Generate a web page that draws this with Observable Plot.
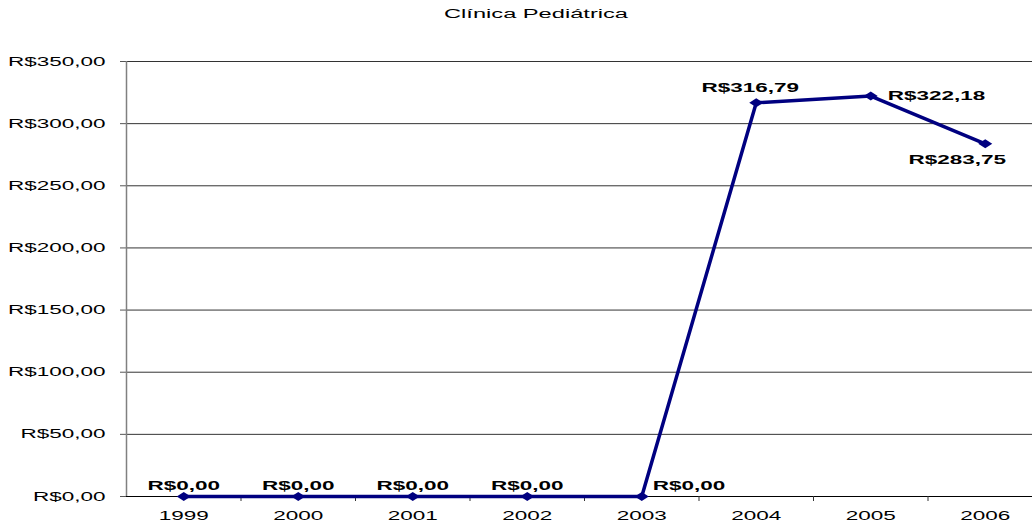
<!DOCTYPE html>
<html>
<head>
<meta charset="utf-8">
<script src="https://cdn.jsdelivr.net/npm/d3@7"></script>
<script src="https://cdn.jsdelivr.net/npm/@observablehq/plot@0.6"></script>
<style>
  body { margin: 0; background: #fff; font-family: "Liberation Sans", Arial, sans-serif; }
  #title { position: relative; width: 1032px; height: 30px; }
  #title span {
    position: absolute; left: 536px; top: 8px;
    font-size: 12px; line-height: 12px; white-space: nowrap; color: #000;
    transform: translateX(-50%) scaleX(1.97);
  }
</style>
</head>
<body>
<div id="title"><span>Clínica Pediátrica</span></div>
<div id="chart"></div>
<script>
// Yearly amounts (R$)
const years = [1999, 2000, 2001, 2002, 2003, 2004, 2005, 2006];
const values = [0, 0, 0, 0, 0, 316.79, 322.18, 283.75];
const yTicks = [0, 50, 100, 150, 200, 250, 300, 350];

const data = years.map((year, i) => ({year, value: values[i]}));
const brl = v => "R$" + v.toFixed(2).replace(".", ",");

// where each value label sits relative to its point: [dx, dy, anchor]
const labelPlacement = {
  1999: [0, -11, "middle"],
  2000: [0, -11, "middle"],
  2001: [0, -11, "middle"],
  2002: [0, -11, "middle"],
  2003: [11, -11, "start"],
  2004: [-6, -15, "middle"],
  2005: [17, 0, "start"],
  2006: [-28, 16, "middle"]
};

// wide diamond marker
const wideDiamond = {
  draw(ctx, size) {
    const r = Math.sqrt(size / Math.PI);
    ctx.moveTo(0, -r * 0.9);
    ctx.lineTo(r * 1.4, 0);
    ctx.lineTo(0, r * 0.9);
    ctx.lineTo(-r * 1.4, 0);
    ctx.closePath();
  }
};

const navy = "#000080";

const chart = Plot.plot({
  width: 1032,
  height: 492,
  marginLeft: 126,
  marginRight: 0,
  marginTop: 31,
  marginBottom: 26,
  style: {
    fontFamily: "'Liberation Sans', Arial, sans-serif",
    fontSize: "12.5px",
    color: "#000",
    background: "#fff",
    overflow: "visible"
  },
  x: {type: "linear", domain: [years[0] - 0.5, years[years.length - 1] + 0.5], range: [126, 1042]},
  y: {domain: [0, 350]},
  marks: [
    Plot.gridY(yTicks, {stroke: "#000", strokeOpacity: 0.8}),
    Plot.axisY(yTicks, {tickSize: 6, tickPadding: 15, tickFormat: brl, label: null, stroke: "#555"}),
    Plot.ruleX([years[0] - 0.5], {y1: 0, y2: 350, stroke: "#808080", strokeWidth: 1.5}),
    Plot.ruleY([0], {stroke: "#000"}),
    Plot.axisX(years.slice(0, -1).map(y => y + 0.5), {tickSize: 5, tickFormat: () => "", label: null, stroke: "#333"}),
    Plot.axisX(years, {tickSize: 0, tickPadding: 15, tickFormat: d => String(d), label: null}),
    Plot.line(data, {x: "year", y: "value", stroke: navy, strokeWidth: 3.5}),
    Plot.dot(data, {x: "year", y: "value", r: 5, symbol: wideDiamond, fill: navy, stroke: "none"}),
    ...data.map(d => {
      const [dx, dy, anchor] = labelPlacement[d.year];
      return Plot.text([d], {
        x: "year", y: "value", text: p => brl(p.value),
        dx, dy, textAnchor: anchor, fontWeight: "bold", fill: "#000"
      });
    })
  ]
});

document.getElementById("chart").append(chart);

// widen the glyphs horizontally
chart.querySelectorAll("text").forEach(t => {
  const len = t.getComputedTextLength();
  if (len > 0) {
    t.setAttribute("textLength", (len * 1.8).toFixed(1));
    t.setAttribute("lengthAdjust", "spacingAndGlyphs");
  }
});
</script>
</body>
</html>
